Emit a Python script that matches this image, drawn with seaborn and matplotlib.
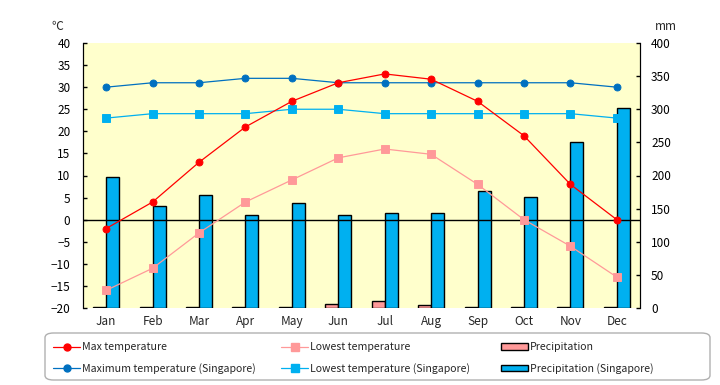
import pandas as pd
import seaborn as sns
import matplotlib.pyplot as plt
from matplotlib.lines import Line2D
from matplotlib.patches import Patch, FancyBboxPatch

# data
months = ['Jan', 'Feb', 'Mar', 'Apr', 'May', 'Jun', 'Jul', 'Aug', 'Sep', 'Oct', 'Nov', 'Dec']
max_temp = [-2, 4, 13, 21, 26.8, 31, 33, 31.8, 26.8, 19, 8, 0]
low_temp = [-16, -11, -3, 4, 9, 14, 16, 14.8, 8, 0, -6, -13]
precip = [1, 2, 1, 2, 2, 6, 11, 5, 2, 1, 1, 1]
sg_max_temp = [30, 31, 31, 32, 32, 31, 31, 31, 31, 31, 31, 30]
sg_low_temp = [23, 24, 24, 24, 25, 25, 24, 24, 24, 24, 24, 23]
sg_precip = [197, 154, 170, 140, 158, 140, 144, 143, 176, 167, 251, 302]

sns.set_style('white')
plt.rcParams['font.family'] = ['Noto Sans CJK JP', 'DejaVu Sans']

df_rain = pd.DataFrame({
    'month': months * 2,
    'mm': precip + sg_precip,
    'series': ['Precipitation'] * 12 + ['Precipitation (Singapore)'] * 12,
})

fig = plt.figure(figsize=(7.2, 3.85), dpi=100)
ax = fig.add_axes([83 / 720, 77 / 385, 557 / 720, 265 / 385])
ax.set_facecolor('#FFFFCC')

# precipitation bars (right axis)
sns.barplot(data=df_rain, x='month', y='mm', hue='series', ax=ax,
            palette=['#FF9999', '#00B0F0'], width=0.56, saturation=1,
            edgecolor='black', linewidth=1, legend=False)
ax.set_ylim(0, 400)
ax.set_yticks(range(0, 401, 50))
ax.set_xlabel('')
ax.set_ylabel('')

# temperatures (left axis)
ax2 = ax.twinx()
ax2.patch.set_visible(False)
ax2.axhline(0, color='black', lw=1, zorder=1)
sns.pointplot(x=months, y=sg_low_temp, ax=ax2, color='#00B0F0', markers='s',
              markersize=5.5, linewidth=0.9)
sns.pointplot(x=months, y=sg_max_temp, ax=ax2, color='#0070C0', markers='o',
              markersize=5, linewidth=0.9)
sns.pointplot(x=months, y=low_temp, ax=ax2, color='#FF9999', markers='s',
              markersize=5.5, linewidth=0.9)
sns.pointplot(x=months, y=max_temp, ax=ax2, color='#FF0000', markers='o',
              markersize=5, linewidth=0.9)
ax2.set_ylim(-20, 40)
ax2.set_yticks(range(-20, 41, 5))
ax2.set_xlim(-0.5, 11.5)

# swap sides: temperature on the left, precipitation on the right
ax.yaxis.tick_right()
ax2.yaxis.tick_left()

for a in (ax, ax2):
    for s in ('top', 'bottom'):
        a.spines[s].set_visible(False)
    a.spines['left'].set_color('black')
    a.spines['right'].set_color('black')
    a.tick_params(axis='y', direction='in', length=3, width=1, labelsize=8.5, colors='black')
    a.tick_params(axis='x', length=0, labelsize=8.5, pad=5)
ax.tick_params(axis='y', pad=8)
ax2.tick_params(axis='y', pad=9)

fig.text(57 / 720, 1 - 26 / 385, '℃', fontsize=8.5, ha='center', va='center')
fig.text(666 / 720, 1 - 26 / 385, 'mm', fontsize=8.5, ha='center', va='center')

# legend box
box = FancyBboxPatch((45 / 720, 5 / 385), 665 / 720, 47 / 385,
                     boxstyle='round,pad=0,rounding_size=0.012',
                     transform=fig.transFigure, facecolor='white',
                     edgecolor='#B0B0B0', lw=1)
fig.patches.append(box)

cols = [
    (53, [Line2D([], [], color='#FF0000', marker='o', markersize=5, lw=0.9),
          Line2D([], [], color='#0070C0', marker='o', markersize=5, lw=0.9)],
     ['Max temperature', 'Maximum temperature (Singapore)']),
    (281, [Line2D([], [], color='#FF9999', marker='s', markersize=5.5, lw=0.9),
           Line2D([], [], color='#00B0F0', marker='s', markersize=5.5, lw=0.9)],
     ['Lowest temperature', 'Lowest temperature (Singapore)']),
    (501, [Patch(facecolor='#FF9999', edgecolor='black', lw=1),
           Patch(facecolor='#00B0F0', edgecolor='black', lw=1)],
     ['Precipitation', 'Precipitation (Singapore)']),
]
for x, handles, labels in cols:
    fig.legend(handles, labels, loc='center left',
               bbox_to_anchor=(x / 720, 27 / 385), frameon=False,
               fontsize=7.6, handlelength=2.6, handleheight=0.6,
               handletextpad=0.15, labelspacing=1.0,
               borderpad=0, borderaxespad=0)

fig.savefig('out.png', dpi=100)
